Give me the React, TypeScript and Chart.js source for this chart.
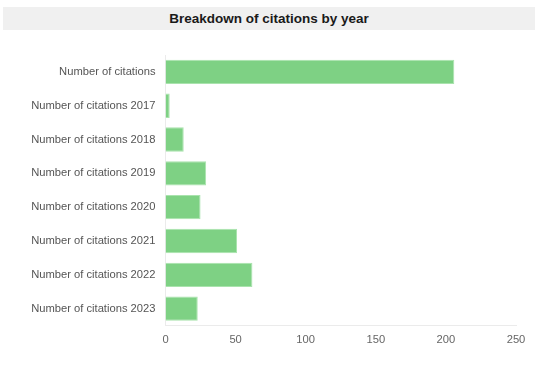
import React, { useEffect, useRef } from "react";
import { Chart, registerables } from "chart.js";

Chart.register(...registerables);

const title = "Breakdown of citations by year";
const categories = [
  "Number of citations",
  "Number of citations 2017",
  "Number of citations 2018",
  "Number of citations 2019",
  "Number of citations 2020",
  "Number of citations 2021",
  "Number of citations 2022",
  "Number of citations 2023",
];
const values = [206, 3, 13, 29, 25, 51, 62, 23];
const xMax = 250;
const xStep = 50;

export default function App() {
  const ref = useRef<HTMLCanvasElement | null>(null);

  useEffect(() => {
    document.body.style.margin = "0";
    const canvas = ref.current;
    if (!canvas) return;
    const font = { family: "'Liberation Sans', Arial, sans-serif", size: 11.2 };
    const chart = new Chart(canvas, {
      type: "bar",
      data: {
        labels: categories,
        datasets: [
          {
            data: values,
            backgroundColor: "#7ed184",
            borderColor: "#a9e3ad",
            borderWidth: 1,
            barPercentage: 0.9,
            categoryPercentage: 0.8,
          },
        ],
      },
      options: {
        indexAxis: "y",
        animation: false,
        responsive: false,
        maintainAspectRatio: false,
        layout: { padding: { top: 20, right: 24, bottom: 10, left: 0 } },
        plugins: { legend: { display: false }, tooltip: { enabled: false }, title: { display: false } },
        scales: {
          x: {
            min: 0,
            max: xMax,
            ticks: { stepSize: xStep, color: "#666", font, padding: 8 },
            grid: { display: false, drawTicks: false },
            border: { display: true, color: "#ebebeb" },
          },
          y: {
            ticks: { color: "#555", font, padding: 10 },
            grid: { display: false, drawTicks: false },
            border: { display: true, color: "#ebebeb" },
            afterFit: (axis: any) => {
              axis.width = 165.5;
            },
          },
        },
      },
    });
    return () => chart.destroy();
  }, []);

  return (
    <div style={{ position: "relative", width: 540, height: 365, background: "#fff" }}>
      <div
        style={{
          position: "absolute",
          left: 3,
          top: 7,
          width: 532,
          height: 23,
          background: "#f0f0f0",
          display: "flex",
          alignItems: "center",
          justifyContent: "center",
          fontFamily: "'Liberation Sans', Arial, sans-serif",
          fontWeight: "bold",
          fontSize: 13.5,
          color: "#1a1a1a",
        }}
      >
        {title}
      </div>
      <canvas ref={ref} width={540} height={330} style={{ position: "absolute", left: 0, top: 35 }} />
    </div>
  );
}
